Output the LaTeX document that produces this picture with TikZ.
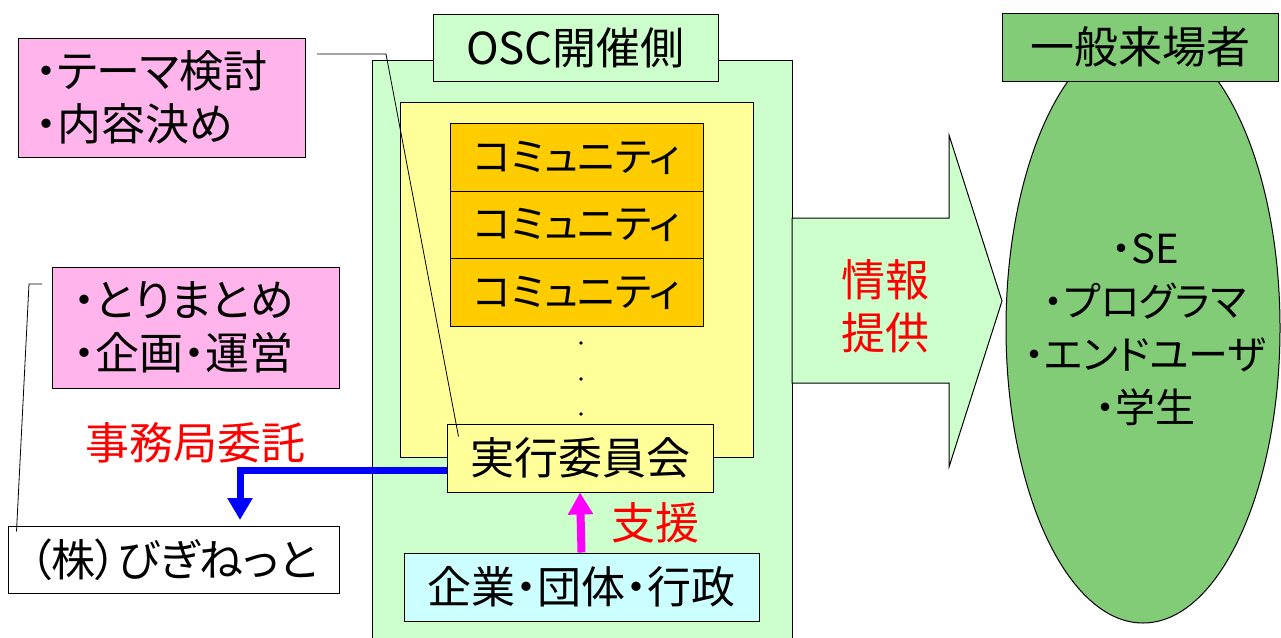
\documentclass[tikz,border=0pt]{standalone}
\usepackage{fontspec}
\setmainfont{Noto Sans CJK JP}[RawFeature=+palt]
\usetikzlibrary{shapes.geometric,arrows.meta,calc}
\definecolor{oscgreen}{HTML}{CCFFCC}
\definecolor{yel}{HTML}{FFFF99}
\definecolor{orng}{HTML}{FFCC00}
\definecolor{pinkbox}{HTML}{FFB5EC}
\definecolor{cyanbox}{HTML}{CCFFFF}
\definecolor{visgreen}{HTML}{82CC78}
\definecolor{magarrow}{RGB}{255,0,255}
\definecolor{bluearrow}{RGB}{0,0,255}
\definecolor{redtext}{RGB}{255,0,0}
\tikzset{
  box/.style={draw=black, line width=1pt, inner sep=0pt},
  big/.style={font=\fontsize{44}{53}\selectfont},
  comm/.style={box, fill=orng, minimum width=253pt, minimum height=67.5pt, font=\fontsize{40}{44}\selectfont},
  callout/.style={draw=black, line width=0.8pt},
  redtxt/.style={text=redtext, font=\fontsize{44}{53}\selectfont, inner sep=0pt, align=center},
}
\begin{document}
\begin{tikzpicture}[x=1pt,y=-1pt]
\useasboundingbox (0,0) rectangle (1281,637);
% OSC area
\node[box, fill=oscgreen, minimum width=420pt, minimum height=585pt] (osc) at (582,352.5) {};
\node[box, fill=oscgreen, big, minimum width=285pt, minimum height=67pt] (osclabel) at (575.5,47.5) {OSC開催側};
\node[box, fill=yel, minimum width=353pt, minimum height=355pt] (yellow) at (576.5,279.5) {};
\node[comm] (com1) at (576.5,157.5) {コミュニティ};
\node[comm] (com2) at (576.5,225) {コミュニティ};
\node[comm] (com3) at (576.5,292.5) {コミュニティ};
\fill (581,343) circle (1.8pt) (581,379) circle (1.8pt) (581,414) circle (1.8pt);
\node[box, fill=yel, big, minimum width=266pt, minimum height=68pt] (jikko) at (580,458) {実行委員会};
\node[box, fill=cyanbox, big, minimum width=355pt, minimum height=68pt] (kigyo) at (581.5,587) {企業・団体・行政};
% left side
\node[box, fill=pinkbox, big, align=left, text width=253pt, inner xsep=17pt, minimum height=119pt] (pink1) at (161.5,97.5) {・テーマ検討\\・内容決め};
\node[box, fill=pinkbox, big, align=left, text width=245pt, inner xsep=21pt, minimum height=121pt] (pink2) at (195.5,327.5) {・とりまとめ\\・企画・運営};
\node[box, fill=white, big, minimum width=331pt, minimum height=67pt] (kabu) at (173.5,559.5) {（株）びぎねっと};
\node[redtxt] (itaku) at (195,443) {事務局委託};
\node[redtxt] (shien) at (655,523) {支援};
% callouts
\coordinate (c1a) at (317,54);
\coordinate (c1b) at (386,54);
\draw[callout] (c1a) -- (c1b) -- ($(jikko.north west)+(12,13)$);
\coordinate (c2a) at (42,284);
\coordinate (c2b) at (29,284);
\draw[callout] (c2a) -- (c2b) -- ($(kabu.north west)+(9,6)$);
% arrows
\coordinate (tipB) at (240,520);
\draw[bluearrow, line width=7pt, -{Triangle[width=24pt,length=22pt]}] ([yshift=-12pt]jikko.west) -| (tipB);
\draw[magarrow, line width=8pt, -{Triangle[width=24pt,length=22pt]}] (kigyo.north) -- (jikko.south);
% big arrow
\draw[fill=oscgreen, line width=1pt] (792,218) -- (949,218) -- (949,135) -- (1002,301) -- (949,467) -- (949,383) -- (792,383) -- cycle;
\node[redtxt] (joho) at (885,306) {情報\\提供};
% visitors
\node[draw=black, line width=1pt, fill=visgreen, ellipse, inner sep=0pt, minimum width=274pt, minimum height=590pt] (visitors) at (1143,328) {};
\node[align=center, inner sep=0pt, font=\fontsize{40}{53}\selectfont] (vistext) at (1145,330) {・SE\\・プログラマ\\・エンドユーザ\\・学生};
\node[box, fill=visgreen, big, minimum width=276pt, minimum height=68pt] (vislabel) at (1140,47) {一般来場者};
\end{tikzpicture}
\end{document}
